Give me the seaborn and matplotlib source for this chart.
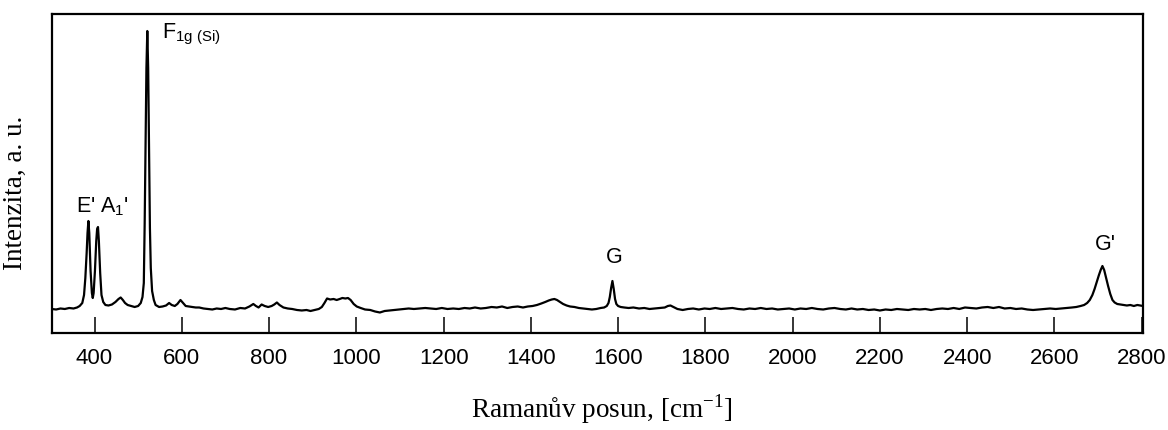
import numpy as np
import pandas as pd
import matplotlib
matplotlib.use("Agg")
import matplotlib.pyplot as plt
import seaborn as sns

# Raman spectrum, low-wavenumber region (E', A1' and Si F1g modes)
shift_low = [302, 312, 322, 332, 342, 352, 360, 366, 372, 376, 379, 382, 384, 386,
             388, 391, 394, 396, 398, 401, 404, 406, 408, 410, 413, 416, 420, 425,
             432, 440, 448, 455, 460, 465, 470, 476, 484, 492, 500, 506, 510, 513,
             515, 517, 519, 521, 523, 525, 527, 529, 532, 536, 540, 548, 556, 564,
             571, 577, 584, 590, 597, 603, 609, 616, 624, 632, 640, 650, 660, 670,
             680, 690, 700]
intensity_low = [24, 23.5, 24.5, 24, 25, 24.5, 25.5, 27, 30, 38, 55, 80, 100, 112,
                 100, 62, 40, 35, 40, 62, 92, 104, 106, 92, 60, 38, 31, 28,
                 27.5, 28.5, 31, 34, 35.5, 33, 30, 28, 27, 26, 27, 30, 36, 50,
                 110, 185, 265, 302, 265, 185, 105, 65, 42, 33, 28, 26, 26.5, 27.5,
                 30, 28, 27, 29, 33, 30, 27, 26.5, 26, 25.5, 25.5, 24.5, 24, 23.5,
                 24.5, 24, 25]

# middle region (broad bands near 950 and 1450, G mode)
shift_mid = [710, 722, 734, 745, 755, 764, 770, 776, 783, 790, 798, 806, 812, 818,
             824, 833, 843, 853, 864, 875, 886, 895, 905, 914, 921, 927, 933, 940,
             948, 955, 962, 968, 975, 981, 987, 994, 1001, 1010, 1020, 1032, 1043,
             1054, 1065, 1076, 1086, 1097, 1108, 1120, 1132, 1145, 1158, 1170, 1183,
             1196, 1209, 1222, 1235, 1248, 1260, 1272, 1285, 1297, 1310, 1322, 1334,
             1346, 1358, 1370, 1382, 1393, 1404, 1414, 1424, 1433, 1441, 1448, 1454,
             1460, 1467, 1474, 1482, 1490, 1500, 1510, 1520, 1530, 1540, 1550, 1560,
             1568, 1574, 1578, 1581, 1584, 1587, 1590, 1593, 1596, 1600, 1606, 1614,
             1624, 1635]
intensity_mid = [24, 23.5, 25, 24.5, 26.5, 29, 27, 25.5, 28.5, 27, 26, 27, 28.5, 30.5,
                 28, 25.5, 24.5, 24, 23, 22.5, 23, 22, 23, 24, 26, 30, 34.5, 33.5,
                 34, 33, 34, 35, 34.5, 35, 33, 29, 26.5, 25, 23.5, 23, 21.5,
                 20.5, 22, 22.5, 23, 23.5, 24, 24.5, 24, 24.5, 25, 24.5, 24,
                 25, 24, 24.5, 24, 25, 24.5, 25.5, 24.5, 25, 26, 25.5, 26.5,
                 25, 26, 26.5, 25.5, 26.5, 27, 28, 29.5, 31, 32.5, 33.5, 34,
                 33, 31, 29, 27.5, 26.5, 26, 25, 24.5, 24, 23.5, 24, 25,
                 25.5, 27, 30, 36, 45, 52, 44, 34, 29, 27, 26, 25.5,
                 25, 25.5]

# high-wavenumber region (G' mode)
shift_high = [1648, 1660, 1672, 1684, 1696, 1707, 1714, 1720, 1727, 1736, 1748, 1760,
              1772, 1785, 1798, 1810, 1823, 1836, 1849, 1862, 1875, 1888, 1901, 1914,
              1927, 1940, 1953, 1966, 1979, 1992, 2005, 2018, 2031, 2044, 2057, 2070,
              2083, 2096, 2109, 2122, 2135, 2148, 2161, 2174, 2187, 2200, 2213, 2226,
              2239, 2252, 2265, 2278, 2291, 2304, 2317, 2330, 2343, 2356, 2369, 2382,
              2395, 2408, 2421, 2434, 2447, 2460, 2473, 2486, 2499, 2512, 2525, 2538,
              2551, 2564, 2577, 2590, 2603, 2616, 2628, 2640, 2650, 2660, 2668, 2675,
              2681, 2687, 2692, 2697, 2702, 2706, 2710, 2714, 2718, 2723, 2728, 2733,
              2738, 2744, 2751, 2758, 2766, 2774, 2782, 2790, 2797, 2803]
intensity_high = [24.5, 25, 24, 24.5, 25, 25.5, 27, 27.5, 26, 24, 23, 24,
                  24.5, 23.5, 24.5, 24, 25, 24, 24.5, 25, 24, 23.5, 24.5, 24,
                  25, 24, 24.5, 23.5, 24, 24.5, 23.5, 24.5, 24, 25, 24, 23.5,
                  24.5, 25, 24, 23.5, 24.5, 23.5, 24, 23, 23.5, 22.5, 23.5, 23,
                  24, 23.5, 23, 24, 23.5, 24, 23, 24, 24.5, 24, 25, 24,
                  25.5, 25, 24.5, 25.5, 26, 25, 26, 24.5, 25, 24, 24.5, 23.5,
                  23, 23.5, 24, 24.5, 24, 24.5, 25, 25.5, 26, 27, 28, 30,
                  33, 38, 44, 51, 58, 63, 67, 63, 56, 47, 39, 33,
                  30.5, 29, 28.5, 28, 27.5, 28, 27, 28, 27.5, 27]

# peak labels: text, shift, height of text baseline, horizontal alignment
peak_labels = [r"F$_{\mathregular{1g\ (Si)}}$", r"E' A$_{\mathregular{1}}$'", "G", "G'"]
peak_label_x = [554, 358, 1591, 2716]
peak_label_y = [295, 121, 70, 83]
peak_label_ha = ["left", "left", "center", "center"]

x_ticks = list(range(400, 2801, 200))

spectrum = pd.DataFrame({
    "shift": np.concatenate([shift_low, shift_mid, shift_high]),
    "intensity": np.concatenate([intensity_low, intensity_mid, intensity_high]),
})

sns.set_theme(style="ticks")
plt.rcParams["font.family"] = ["Liberation Sans", "DejaVu Sans"]
plt.rcParams["mathtext.fontset"] = "custom"
plt.rcParams["mathtext.rm"] = "Liberation Sans"
plt.rcParams["mathtext.it"] = "Liberation Sans:italic"

fig = plt.figure(figsize=(11.68, 4.30), dpi=100)
ax = fig.add_axes([0.0443, 0.2256, 0.9343, 0.7418])

sns.lineplot(data=spectrum, x="shift", y="intensity", ax=ax, color="black",
             linewidth=1.6, estimator=None, sort=False)

ax.set_xlim(302, 2803)
ax.set_ylim(0, 319)
ax.set_xticks(x_ticks)
ax.set_yticks([])
ax.tick_params(axis="x", direction="in", length=11.5, width=1.1, pad=10.5,
               labelsize=16, colors="black")
for side in ["left", "right", "top", "bottom"]:
    ax.spines[side].set_visible(True)
    ax.spines[side].set_linewidth(1.6)
    ax.spines[side].set_color("black")

for text, px, py, ha in zip(peak_labels, peak_label_x, peak_label_y, peak_label_ha):
    ax.text(px, py, text, ha=ha, va="baseline", fontsize=15.5, color="black")

ax.set_xlabel(r"Ramanův posun, [cm$^{\mathregular{-1}}$]", fontsize=19.5,
              family="Liberation Serif", color="black")
ax.set_ylabel("Intenzita, a. u.", fontsize=19.5, family="Liberation Serif",
              color="black")
ax.xaxis.set_label_coords(0.504, -0.185)
ax.yaxis.set_label_coords(-0.0217, 0.439)

fig.savefig("out.png", dpi=100, facecolor="white")
